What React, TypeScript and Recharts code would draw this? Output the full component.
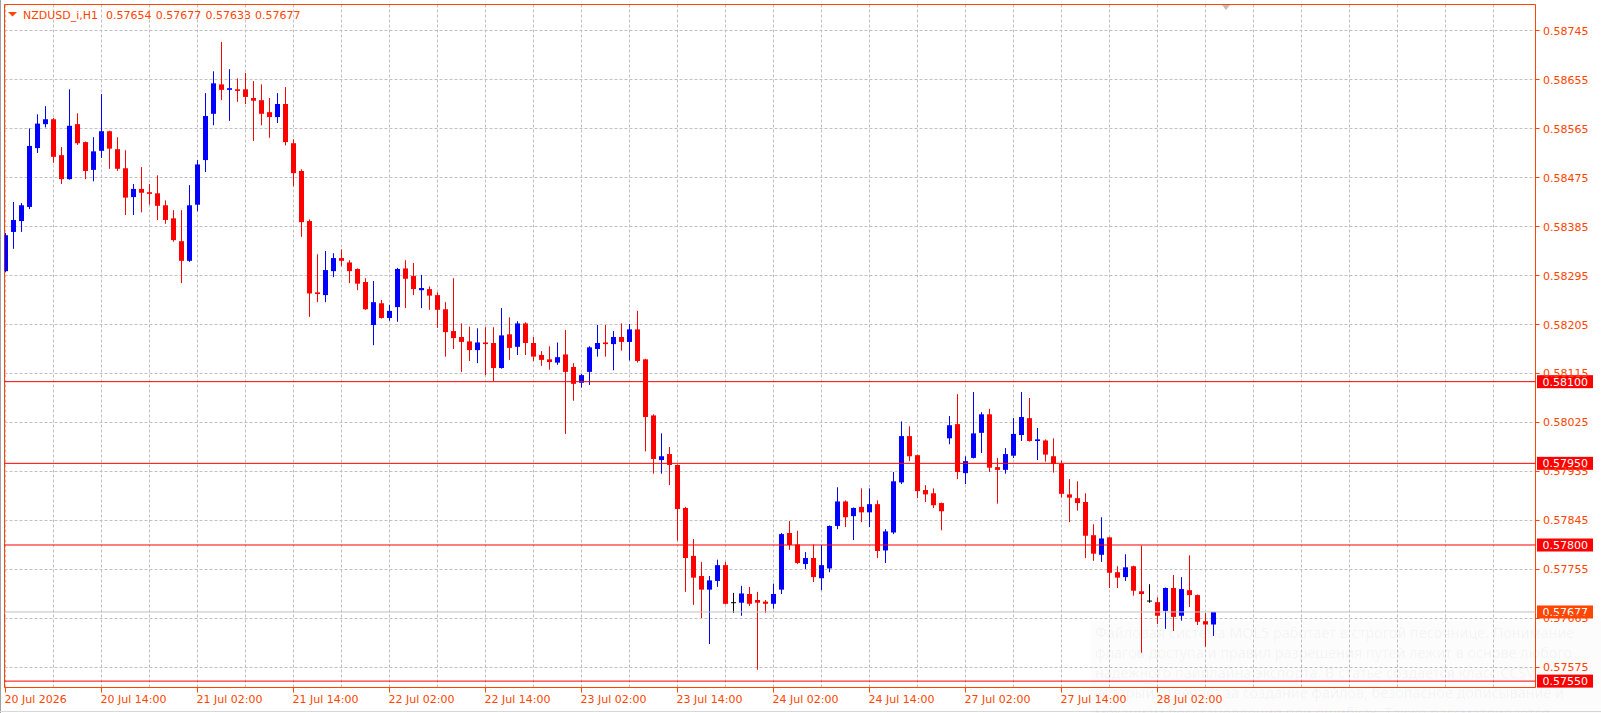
import React from 'react';
import {
  ComposedChart, Bar, XAxis, YAxis, CartesianGrid, ReferenceLine, ReferenceArea,
} from 'recharts';

// NZDUSD_i, H1 candles (index 0 = 20 Jul 2026 02:00)
const openPrices = [
  0.58303, 0.58375, 0.58395, 0.58421, 0.58529, 0.58573, 0.58582, 0.58516, 0.58472, 0.58573,
  0.58540, 0.58489, 0.58524, 0.58560, 0.58527, 0.58492, 0.58439, 0.58454, 0.58448, 0.58446,
  0.58424, 0.58400, 0.58358, 0.58322, 0.58425, 0.58507, 0.58592, 0.58646, 0.58636, 0.58637,
  0.58637, 0.58621, 0.58617, 0.58595, 0.58586, 0.58610, 0.58538, 0.58487, 0.58395, 0.58264,
  0.58259, 0.58303, 0.58327, 0.58319, 0.58307, 0.58283, 0.58204, 0.58244, 0.58217, 0.58237,
  0.58308, 0.58294, 0.58268, 0.58270, 0.58259, 0.58233, 0.58193, 0.58182, 0.58174, 0.58158,
  0.58172, 0.58171, 0.58125, 0.58187, 0.58164, 0.58207, 0.58171, 0.58149, 0.58141, 0.58135,
  0.58150, 0.58127, 0.58098, 0.58118, 0.58160, 0.58172, 0.58169, 0.58182, 0.58173, 0.58196,
  0.58141, 0.58038, 0.57956, 0.57967, 0.57947, 0.57868, 0.57780, 0.57743, 0.57718, 0.57734,
  0.57763, 0.57694, 0.57694, 0.57710, 0.57699, 0.57696, 0.57692, 0.57718, 0.57822, 0.57801,
  0.57765, 0.57776, 0.57739, 0.57757, 0.57835, 0.57880, 0.57853, 0.57870, 0.57860, 0.57875,
  0.57790, 0.57823, 0.57915, 0.58000, 0.57965, 0.57901, 0.57895, 0.57877, 0.57996, 0.58022,
  0.57932, 0.57960, 0.58006, 0.58040, 0.57943, 0.57938, 0.57964, 0.58002, 0.58033, 0.57991,
  0.57992, 0.57963, 0.57949, 0.57893, 0.57886, 0.57879, 0.57818, 0.57782, 0.57814, 0.57750,
  0.57741, 0.57761, 0.57715, 0.57697, 0.57695, 0.57679, 0.57721, 0.57670, 0.57717, 0.57708,
  0.57660, 0.57654,
];
const highPrices = [
  0.58373, 0.58430, 0.58428, 0.58565, 0.58591, 0.58606, 0.58584, 0.58531, 0.58637, 0.58593,
  0.58541, 0.58549, 0.58628, 0.58561, 0.58549, 0.58525, 0.58463, 0.58494, 0.58463, 0.58479,
  0.58433, 0.58415, 0.58415, 0.58461, 0.58507, 0.58630, 0.58670, 0.58724, 0.58674, 0.58657,
  0.58667, 0.58652, 0.58646, 0.58621, 0.58630, 0.58641, 0.58545, 0.58490, 0.58398, 0.58334,
  0.58340, 0.58336, 0.58343, 0.58323, 0.58308, 0.58290, 0.58285, 0.58250, 0.58241, 0.58309,
  0.58323, 0.58318, 0.58296, 0.58275, 0.58264, 0.58246, 0.58290, 0.58207, 0.58201, 0.58198,
  0.58200, 0.58200, 0.58235, 0.58218, 0.58211, 0.58209, 0.58182, 0.58156, 0.58165, 0.58172,
  0.58195, 0.58134, 0.58114, 0.58165, 0.58204, 0.58204, 0.58193, 0.58207, 0.58206, 0.58230,
  0.58142, 0.58040, 0.58005, 0.57980, 0.57948, 0.57870, 0.57811, 0.57769, 0.57743, 0.57773,
  0.57769, 0.57712, 0.57725, 0.57723, 0.57714, 0.57699, 0.57729, 0.57822, 0.57844, 0.57826,
  0.57787, 0.57801, 0.57800, 0.57836, 0.57906, 0.57882, 0.57869, 0.57904, 0.57904, 0.57882,
  0.57829, 0.57934, 0.58027, 0.58018, 0.57966, 0.57910, 0.57904, 0.57878, 0.58037, 0.58077,
  0.57963, 0.58081, 0.58044, 0.58050, 0.57960, 0.57978, 0.58033, 0.58081, 0.58070, 0.58015,
  0.57994, 0.57996, 0.57955, 0.57921, 0.57917, 0.57895, 0.57838, 0.57851, 0.57815, 0.57761,
  0.57783, 0.57762, 0.57799, 0.57728, 0.57704, 0.57722, 0.57745, 0.57741, 0.57781, 0.57709,
  0.57675, 0.57677,
];
const lowPrices = [
  0.58301, 0.58344, 0.58375, 0.58417, 0.58520, 0.58567, 0.58502, 0.58463, 0.58471, 0.58535,
  0.58472, 0.58468, 0.58511, 0.58491, 0.58487, 0.58406, 0.58406, 0.58411, 0.58425, 0.58397,
  0.58390, 0.58357, 0.58281, 0.58320, 0.58413, 0.58485, 0.58571, 0.58617, 0.58579, 0.58614,
  0.58610, 0.58542, 0.58571, 0.58548, 0.58575, 0.58534, 0.58459, 0.58366, 0.58219, 0.58246,
  0.58246, 0.58292, 0.58312, 0.58281, 0.58268, 0.58232, 0.58167, 0.58216, 0.58212, 0.58210,
  0.58235, 0.58259, 0.58235, 0.58232, 0.58199, 0.58146, 0.58160, 0.58118, 0.58138, 0.58134,
  0.58112, 0.58101, 0.58124, 0.58140, 0.58149, 0.58149, 0.58138, 0.58129, 0.58122, 0.58131,
  0.58004, 0.58065, 0.58089, 0.58094, 0.58146, 0.58146, 0.58121, 0.58157, 0.58139, 0.58135,
  0.57972, 0.57931, 0.57931, 0.57910, 0.57808, 0.57714, 0.57690, 0.57666, 0.57618, 0.57723,
  0.57691, 0.57675, 0.57670, 0.57688, 0.57571, 0.57675, 0.57683, 0.57710, 0.57791, 0.57765,
  0.57756, 0.57732, 0.57717, 0.57750, 0.57829, 0.57833, 0.57809, 0.57842, 0.57833, 0.57776,
  0.57767, 0.57820, 0.57912, 0.57954, 0.57886, 0.57879, 0.57868, 0.57827, 0.57985, 0.57921,
  0.57912, 0.57959, 0.57969, 0.57934, 0.57876, 0.57931, 0.57960, 0.57991, 0.57990, 0.57956,
  0.57953, 0.57933, 0.57887, 0.57842, 0.57863, 0.57776, 0.57771, 0.57769, 0.57721, 0.57721,
  0.57734, 0.57707, 0.57602, 0.57694, 0.57655, 0.57646, 0.57642, 0.57661, 0.57686, 0.57653,
  0.57613, 0.57633,
];
const closePrices = [
  0.58369, 0.58397, 0.58424, 0.58533, 0.58574, 0.58582, 0.58513, 0.58472, 0.58570, 0.58538,
  0.58487, 0.58523, 0.58560, 0.58528, 0.58491, 0.58438, 0.58454, 0.58447, 0.58445, 0.58423,
  0.58397, 0.58360, 0.58322, 0.58424, 0.58499, 0.58588, 0.58648, 0.58636, 0.58639, 0.58634,
  0.58623, 0.58616, 0.58592, 0.58586, 0.58610, 0.58540, 0.58483, 0.58393, 0.58262, 0.58261,
  0.58305, 0.58327, 0.58322, 0.58303, 0.58280, 0.58233, 0.58246, 0.58217, 0.58230, 0.58307,
  0.58289, 0.58270, 0.58272, 0.58258, 0.58232, 0.58191, 0.58180, 0.58173, 0.58158, 0.58172,
  0.58169, 0.58125, 0.58185, 0.58162, 0.58207, 0.58171, 0.58146, 0.58140, 0.58136, 0.58145,
  0.58118, 0.58096, 0.58112, 0.58163, 0.58171, 0.58169, 0.58182, 0.58173, 0.58196, 0.58138,
  0.58035, 0.57958, 0.57963, 0.57947, 0.57866, 0.57776, 0.57740, 0.57718, 0.57735, 0.57763,
  0.57692, 0.57694, 0.57711, 0.57692, 0.57694, 0.57692, 0.57710, 0.57820, 0.57800, 0.57767,
  0.57776, 0.57741, 0.57763, 0.57835, 0.57880, 0.57851, 0.57868, 0.57860, 0.57875, 0.57789,
  0.57825, 0.57917, 0.58000, 0.57963, 0.57899, 0.57893, 0.57873, 0.57862, 0.58020, 0.57934,
  0.57954, 0.58005, 0.58040, 0.57942, 0.57938, 0.57967, 0.58004, 0.58035, 0.57991, 0.57994,
  0.57966, 0.57949, 0.57894, 0.57887, 0.57877, 0.57817, 0.57784, 0.57812, 0.57749, 0.57740,
  0.57759, 0.57716, 0.57710, 0.57697, 0.57670, 0.57721, 0.57668, 0.57719, 0.57708, 0.57659,
  0.57654, 0.57677,
];

// one label every 12 bars, starting at bar 0
const timeLabels = [
  '20 Jul 2026', '20 Jul 14:00', '21 Jul 02:00', '21 Jul 14:00', '22 Jul 02:00',
  '22 Jul 14:00', '23 Jul 02:00', '23 Jul 14:00', '24 Jul 02:00', '24 Jul 14:00',
  '27 Jul 02:00', '27 Jul 14:00', '28 Jul 02:00',
];
const priceTicks = [
  0.58745, 0.58655, 0.58565, 0.58475, 0.58385, 0.58295, 0.58205,
  0.58115, 0.58025, 0.57935, 0.57845, 0.57755, 0.57665, 0.57575,
];
const levelPrices = [0.581, 0.5795, 0.578, 0.5755];
const lastPrice = 0.57677;
const gridBars = [
  0, 6, 12, 18, 24, 30, 36, 42, 48, 54, 60, 66, 72, 78, 84, 90,
  96, 102, 108, 114, 120, 126, 132, 138, 144, 150, 156, 162, 168, 174, 180, 186,
];

const symbolName = 'NZDUSD_i,H1';
const headerValues = ['0.57654', '0.57677', '0.57633', '0.57677'];
const noteLines = [
  'Файловая система MQL5 работает в строгой песочнице. Понимание',
  'флагов доступа и правил разрешения путей лежит в основе любого',
  'надежного пайплайна экспорта. В статье создается класс CCSV,',
  'который отвечает за создание файлов, безопасное дописывание и',
  'механизм восстановления при ошибках. Также рассматривается',
];

const W = 1601;
const H = 713;
const AXIS = '#ff4500';
const BULL = '#0000ff';
const BEAR = '#ff0000';
const DOJI = '#000000';
const GRID = '#c0c0c0';
const FONT = '"DejaVu Sans", Verdana, sans-serif';

const X_DOMAIN: [number, number] = [-0.125, 191.25];
const Y_DOMAIN: [number, number] = [0.5753826, 0.5879276];

const candles = openPrices.map((o, i) => ({
  idx: i,
  o,
  h: highPrices[i],
  l: lowPrices[i],
  c: closePrices[i],
  range: [lowPrices[i], highPrices[i]],
}));

const Candle = (props: any) => {
  const { x, y, width, height, payload } = props;
  if (!payload || x == null) return <g />;
  const { o, h, l, c } = payload;
  const top = Math.min(y, y + height);
  const bot = Math.max(y, y + height);
  const yOf = (v: number) => top + ((h - v) / (h - l)) * (bot - top);
  const cx = Math.floor(x + width / 2) + 0.5;
  const color = c > o ? BULL : c < o ? BEAR : DOJI;
  const yo = yOf(o);
  const yc = yOf(c);
  const bt = Math.min(yo, yc);
  const bb = Math.max(yo, yc);
  return (
    <g>
      <line x1={cx} x2={cx} y1={top} y2={bot} stroke={color} strokeWidth={1} />
      {c === o ? (
        <line x1={cx - 2.5} x2={cx + 2.5} y1={yo} y2={yo} stroke={color} strokeWidth={1} />
      ) : (
        <rect x={cx - 2.5} y={bt} width={5} height={Math.max(bb - bt, 1)} fill={color} />
      )}
    </g>
  );
};

const TimeTick = (props: any) => {
  const { x, y, payload } = props;
  const i = payload.value;
  const label = i % 12 === 0 ? timeLabels[i / 12] : undefined;
  if (!label) return <g />;
  return (
    <g>
      <line x1={x} x2={x} y1={y - 5} y2={y} stroke={AXIS} />
      <text x={x - 1} y={y + 10} fill={AXIS} fontSize={11} fontFamily={FONT}>{label}</text>
    </g>
  );
};

const PriceTick = (props: any) => {
  const { x, y, payload } = props;
  return (
    <g>
      <line x1={x - 8} x2={x - 4} y1={y} y2={y} stroke={AXIS} />
      <text x={x - 0.5} y={y + 4} fill={AXIS} fontSize={11} fontFamily={FONT}>
        {Number(payload.value).toFixed(5)}
      </text>
    </g>
  );
};

const levelTag = (text: string, bg: string) => (props: any) => {
  const vb = props.viewBox || {};
  const right = vb.x + vb.width;
  const y = vb.y;
  return (
    <g>
      <rect x={right + 1.5} y={y - 6.5} width={56} height={13} fill={bg} />
      <text x={right + 7} y={y + 4} fill="#ffffff" fontSize={11} fontFamily={FONT}>{text}</text>
    </g>
  );
};

export default function App() {
  return (
    <div style={{ position: 'absolute', left: 0, top: 0, width: W, height: H, background: '#fff' }}>
      <ComposedChart
        width={W}
        height={H}
        data={candles}
        margin={{ top: 4.5, right: 0, bottom: 0, left: 4.5 }}
      >
        <CartesianGrid stroke={GRID} strokeDasharray="3 2" />
        <XAxis
          dataKey="idx"
          type="number"
          domain={X_DOMAIN}
          ticks={gridBars}
          allowDataOverflow
          interval={0}
          height={25.5}
          tickSize={5}
          tickMargin={0}
          axisLine={false}
          tickLine={false}
          tick={<TimeTick />}
        />
        <YAxis
          orientation="right"
          type="number"
          domain={Y_DOMAIN}
          ticks={priceTicks}
          allowDataOverflow
          interval={0}
          width={65.5}
          tickSize={4}
          tickMargin={4}
          axisLine={false}
          tickLine={false}
          tick={<PriceTick />}
        />
        <ReferenceLine y={lastPrice} stroke="#c0c0c0" label={levelTag(lastPrice.toFixed(5), '#ff4500')} />
        {levelPrices.map((p) => (
          <ReferenceLine key={p} y={p} stroke="#ff0000" label={levelTag(p.toFixed(5), '#ff0000')} />
        ))}
        <Bar dataKey="range" barSize={5} isAnimationActive={false} shape={<Candle />} />
        <ReferenceArea
          x1={X_DOMAIN[0]}
          x2={X_DOMAIN[1]}
          y1={Y_DOMAIN[0]}
          y2={Y_DOMAIN[1]}
          fill="none"
          stroke={AXIS}
          ifOverflow="visible"
        />
      </ComposedChart>

      <svg
        width={W}
        height={H}
        style={{ position: 'absolute', left: 0, top: 0, pointerEvents: 'none' }}
      >
        <line x1={0.5} x2={0.5} y1={0} y2={H} stroke="#a0a0a0" />
        <line x1={0} x2={W} y1={711.5} y2={711.5} stroke="#d8d8d8" />
        <polygon points="8,12 17,12 12.5,16.5" fill={AXIS} />
        <text y={19} fill={AXIS} fontSize={11} fontFamily={FONT}>
          <tspan x={23}>{symbolName}</tspan>
          {headerValues.map((v, i) => (
            <tspan key={i} x={106 + i * 49.7}>{v}</tspan>
          ))}
        </text>
        <polygon points="1222,5 1230,5 1226,10" fill="#c0c0c0" />
        <rect x={1091} y={621} width={510} height={92} fill="#000" fillOpacity={0.012} />
        {noteLines.map((t, i) => (
          <text
            key={i}
            x={1095}
            y={638 + i * 20}
            fill="#000"
            fillOpacity={0.05}
            fontSize={14.4}
            fontFamily='"Noto Sans", sans-serif'
          >
            {t}
          </text>
        ))}
      </svg>
    </div>
  );
}
